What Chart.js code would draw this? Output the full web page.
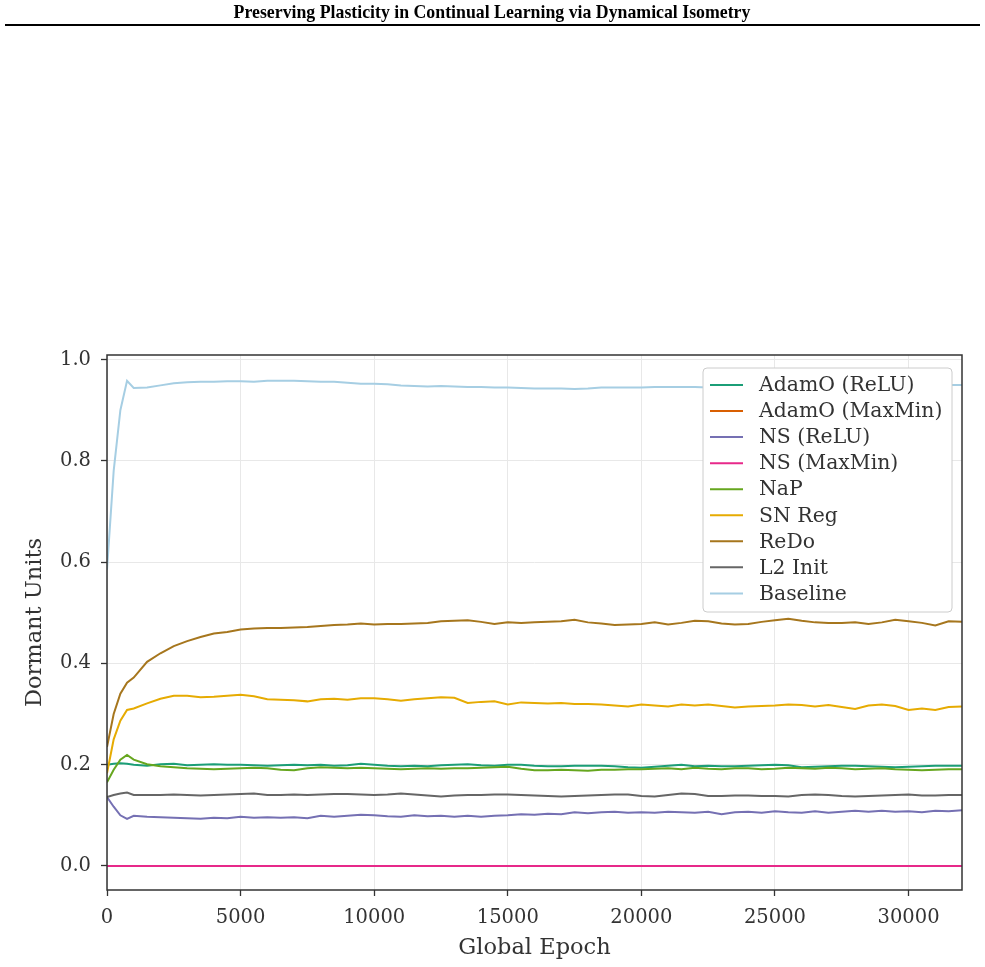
<!DOCTYPE html>
<html>
<head>
<meta charset="utf-8">
<script src="https://cdn.jsdelivr.net/npm/chart.js@4.4.1/dist/chart.umd.min.js"></script>
<style>
  html, body { margin: 0; padding: 0; background: #fff; }
  canvas { display: block; }
</style>
</head>
<body>
<canvas id="dormantChart" width="985" height="967"></canvas>
<script>
const headerTitle = 'Preserving Plasticity in Continual Learning via Dynamical Isometry';

const epochs = [0, 250, 500, 750, 1000, 1500, 2000, 2500, 3000, 3500, 4000, 4500, 5000, 5500, 6000, 6500,
  7000, 7500, 8000, 8500, 9000, 9500, 10000, 10500, 11000, 11500, 12000, 12500, 13000, 13500, 14000, 14500,
  15000, 15500, 16000, 16500, 17000, 17500, 18000, 18500, 19000, 19500, 20000, 20500, 21000, 21500, 22000,
  22500, 23000, 23500, 24000, 24500, 25000, 25500, 26000, 26500, 27000, 27500, 28000, 28500, 29000, 29500,
  30000, 30500, 31000, 31500, 32000];

const xTickValues = [0, 5000, 10000, 15000, 20000, 25000, 30000];
const yTickValues = [0.0, 0.2, 0.4, 0.6, 0.8, 1.0];

// dormant unit fraction per method
const adamoRelu = [0.200, 0.202, 0.203, 0.202, 0.200, 0.198, 0.201, 0.202, 0.199, 0.200, 0.201, 0.200, 0.200,
  0.199, 0.198, 0.199, 0.200, 0.199, 0.200, 0.198, 0.199, 0.202, 0.200, 0.198, 0.197, 0.198, 0.197, 0.199,
  0.200, 0.201, 0.199, 0.198, 0.200, 0.200, 0.198, 0.197, 0.197, 0.198, 0.198, 0.198, 0.197, 0.195, 0.194,
  0.196, 0.198, 0.200, 0.197, 0.198, 0.197, 0.197, 0.198, 0.199, 0.200, 0.199, 0.195, 0.196, 0.197, 0.198,
  0.198, 0.197, 0.196, 0.195, 0.196, 0.197, 0.198, 0.198, 0.198];
const adamoMaxMin = [0, 0, 0, 0, 0, 0, 0, 0, 0, 0, 0, 0, 0, 0, 0, 0, 0, 0, 0, 0, 0, 0, 0, 0, 0, 0, 0, 0, 0,
  0, 0, 0, 0, 0, 0, 0, 0, 0, 0, 0, 0, 0, 0, 0, 0, 0, 0, 0, 0, 0, 0, 0, 0, 0, 0, 0, 0, 0, 0, 0, 0, 0, 0, 0, 0, 0, 0];
const nsRelu = [0.136, 0.117, 0.100, 0.093, 0.099, 0.097, 0.096, 0.095, 0.094, 0.093, 0.095, 0.094, 0.097,
  0.095, 0.096, 0.095, 0.096, 0.094, 0.099, 0.097, 0.099, 0.101, 0.100, 0.098, 0.097, 0.100, 0.098, 0.099,
  0.097, 0.099, 0.097, 0.099, 0.100, 0.102, 0.101, 0.103, 0.102, 0.106, 0.104, 0.106, 0.107, 0.105, 0.106,
  0.105, 0.107, 0.106, 0.105, 0.107, 0.102, 0.106, 0.107, 0.105, 0.108, 0.106, 0.105, 0.108, 0.105, 0.107,
  0.109, 0.107, 0.109, 0.107, 0.108, 0.106, 0.109, 0.108, 0.110];
const nsMaxMin = [0, 0, 0, 0, 0, 0, 0, 0, 0, 0, 0, 0, 0, 0, 0, 0, 0, 0, 0, 0, 0, 0, 0, 0, 0, 0, 0, 0, 0,
  0, 0, 0, 0, 0, 0, 0, 0, 0, 0, 0, 0, 0, 0, 0, 0, 0, 0, 0, 0, 0, 0, 0, 0, 0, 0, 0, 0, 0, 0, 0, 0, 0, 0, 0, 0, 0, 0];
const nap = [0.165, 0.190, 0.210, 0.219, 0.210, 0.201, 0.197, 0.195, 0.193, 0.192, 0.191, 0.192, 0.193,
  0.194, 0.193, 0.190, 0.189, 0.193, 0.195, 0.194, 0.193, 0.194, 0.193, 0.192, 0.191, 0.192, 0.193, 0.192,
  0.193, 0.193, 0.194, 0.195, 0.196, 0.192, 0.189, 0.189, 0.190, 0.189, 0.188, 0.190, 0.190, 0.191, 0.191,
  0.192, 0.193, 0.191, 0.194, 0.192, 0.191, 0.193, 0.193, 0.191, 0.192, 0.194, 0.193, 0.192, 0.194, 0.193,
  0.191, 0.192, 0.193, 0.191, 0.190, 0.189, 0.190, 0.191, 0.191];
const snReg = [0.183, 0.250, 0.287, 0.308, 0.311, 0.321, 0.330, 0.336, 0.336, 0.333, 0.334, 0.336, 0.338,
  0.335, 0.329, 0.328, 0.327, 0.325, 0.329, 0.330, 0.328, 0.331, 0.331, 0.329, 0.326, 0.329, 0.331, 0.333,
  0.332, 0.322, 0.324, 0.325, 0.319, 0.323, 0.322, 0.321, 0.322, 0.320, 0.320, 0.319, 0.317, 0.315, 0.319,
  0.317, 0.315, 0.319, 0.317, 0.319, 0.316, 0.313, 0.315, 0.316, 0.317, 0.319, 0.318, 0.315, 0.318, 0.314,
  0.310, 0.317, 0.319, 0.316, 0.308, 0.311, 0.308, 0.314, 0.315];
const redo = [0.235, 0.300, 0.340, 0.362, 0.372, 0.403, 0.420, 0.434, 0.444, 0.452, 0.459, 0.462, 0.467,
  0.469, 0.470, 0.470, 0.471, 0.472, 0.474, 0.476, 0.477, 0.479, 0.477, 0.478, 0.478, 0.479, 0.480, 0.483,
  0.484, 0.485, 0.482, 0.478, 0.481, 0.480, 0.481, 0.482, 0.483, 0.486, 0.481, 0.479, 0.476, 0.477, 0.478,
  0.481, 0.477, 0.480, 0.484, 0.483, 0.479, 0.477, 0.478, 0.482, 0.485, 0.488, 0.484, 0.481, 0.480, 0.480,
  0.481, 0.478, 0.481, 0.486, 0.483, 0.480, 0.475, 0.483, 0.482];
const l2Init = [0.136, 0.140, 0.143, 0.145, 0.140, 0.140, 0.140, 0.141, 0.140, 0.139, 0.140, 0.141, 0.142,
  0.143, 0.140, 0.140, 0.141, 0.140, 0.141, 0.142, 0.142, 0.141, 0.140, 0.141, 0.143, 0.141, 0.139, 0.137,
  0.139, 0.140, 0.140, 0.141, 0.141, 0.140, 0.139, 0.138, 0.137, 0.138, 0.139, 0.140, 0.141, 0.141, 0.138,
  0.137, 0.140, 0.143, 0.142, 0.138, 0.138, 0.139, 0.139, 0.138, 0.138, 0.137, 0.140, 0.141, 0.140, 0.138,
  0.137, 0.138, 0.139, 0.140, 0.141, 0.139, 0.139, 0.140, 0.140];
const baseline = [0.585, 0.780, 0.900, 0.958, 0.944, 0.945, 0.949, 0.953, 0.955, 0.956, 0.956, 0.957, 0.957,
  0.956, 0.958, 0.958, 0.958, 0.957, 0.956, 0.956, 0.954, 0.952, 0.952, 0.951, 0.949, 0.948, 0.947, 0.948,
  0.947, 0.946, 0.946, 0.945, 0.945, 0.944, 0.943, 0.943, 0.943, 0.942, 0.943, 0.945, 0.945, 0.945, 0.945,
  0.946, 0.946, 0.946, 0.946, 0.945, 0.946, 0.947, 0.947, 0.948, 0.948, 0.948, 0.949, 0.949, 0.949, 0.949,
  0.950, 0.950, 0.950, 0.950, 0.950, 0.950, 0.950, 0.950, 0.950];

const seriesNames = ['AdamO (ReLU)', 'AdamO (MaxMin)', 'NS (ReLU)', 'NS (MaxMin)', 'NaP', 'SN Reg', 'ReDo', 'L2 Init', 'Baseline'];
const seriesValues = [adamoRelu, adamoMaxMin, nsRelu, nsMaxMin, nap, snReg, redo, l2Init, baseline];
const seriesColors = ['#1b9e77', '#d95f02', '#7570b3', '#e7298a', '#66a61e', '#e6ab02', '#a6761d', '#666666', '#a6cee3'];

const serif = '"DejaVu Serif", serif';
const textColor = '#333333';

// header line of the paper page + axes frame + boxed legend drawn over the lines
const pagePlugin = {
  id: 'pagePlugin',
  beforeDraw(chart) {
    const ctx = chart.ctx;
    ctx.save();
    ctx.fillStyle = '#000';
    ctx.font = 'bold 17.8px "Liberation Serif", serif';
    ctx.textAlign = 'center';
    ctx.textBaseline = 'middle';
    ctx.fillText(headerTitle, 492, 13);
    ctx.fillRect(5, 24, 975, 2);
    ctx.restore();
  },
  afterDatasetsDraw(chart) {
    const ctx = chart.ctx;
    const a = chart.chartArea;
    ctx.save();
    ctx.strokeStyle = '#333';
    ctx.lineWidth = 1.5;
    ctx.strokeRect(a.left, a.top, a.right - a.left, a.bottom - a.top);

    // legend box
    const bw = 249, bh = 244;
    const bx = a.right - 10 - bw, by = a.top + 13;
    ctx.beginPath();
    ctx.roundRect(bx, by, bw, bh, 4);
    ctx.fillStyle = '#ffffff';
    ctx.fill();
    ctx.strokeStyle = '#cccccc';
    ctx.lineWidth = 1;
    ctx.stroke();

    ctx.font = '20.4px ' + serif;
    ctx.textAlign = 'left';
    ctx.textBaseline = 'middle';
    chart.data.datasets.forEach((ds, i) => {
      const y = by + 17 + i * 26.05;
      ctx.strokeStyle = ds.borderColor;
      ctx.lineWidth = 2;
      ctx.beginPath();
      ctx.moveTo(bx + 7, y);
      ctx.lineTo(bx + 40, y);
      ctx.stroke();
      ctx.fillStyle = textColor;
      ctx.fillText(ds.label, bx + 56, y + 1);
    });
    ctx.restore();
  }
};

const ctx = document.getElementById('dormantChart').getContext('2d');
const dormantChart = new Chart(ctx, {
  type: 'line',
  data: {
    datasets: seriesNames.map((name, i) => ({
      label: name,
      data: epochs.map((e, j) => ({ x: e, y: seriesValues[i][j] })),
      borderColor: seriesColors[i],
      backgroundColor: seriesColors[i],
      borderWidth: 2,
      pointRadius: 0,
      tension: 0,
      fill: false,
      order: -i
    }))
  },
  options: {
    responsive: false,
    animation: false,
    devicePixelRatio: 1,
    layout: { padding: { top: 355, right: 23, bottom: 0, left: 0 } },
    plugins: {
      legend: { display: false },
      tooltip: { enabled: false },
      title: { display: false }
    },
    scales: {
      x: {
        type: 'linear',
        min: 0,
        max: 32000,
        afterBuildTicks: axis => { axis.ticks = xTickValues.map(v => ({ value: v })); },
        afterFit: axis => { axis.height = 77; },
        border: { display: false },
        grid: { color: '#e8e8e8', lineWidth: 1, tickLength: 6, tickColor: '#333', tickWidth: 1.3 },
        ticks: {
          color: textColor,
          font: { family: serif, size: 19.5 },
          padding: 10,
          maxRotation: 0,
          callback: v => String(v)
        },
        title: {
          display: true,
          text: 'Global Epoch',
          color: textColor,
          font: { family: serif, size: 22.5 },
          padding: { top: 0, bottom: 5 }
        }
      },
      y: {
        type: 'linear',
        min: -0.0475,
        max: 1.009,
        afterBuildTicks: axis => { axis.ticks = yTickValues.map(v => ({ value: v })); },
        afterFit: axis => { axis.width = 107; },
        border: { display: false },
        grid: { color: '#e8e8e8', lineWidth: 1, tickLength: 6, tickColor: '#333', tickWidth: 1.3 },
        ticks: {
          color: textColor,
          font: { family: serif, size: 19.5 },
          padding: 10,
          callback: v => v.toFixed(1)
        },
        title: {
          display: true,
          text: 'Dormant Units',
          color: textColor,
          font: { family: serif, size: 22.5 },
          padding: { top: 22, bottom: 0 }
        }
      }
    }
  },
  plugins: [pagePlugin]
});
</script>
</body>
</html>
